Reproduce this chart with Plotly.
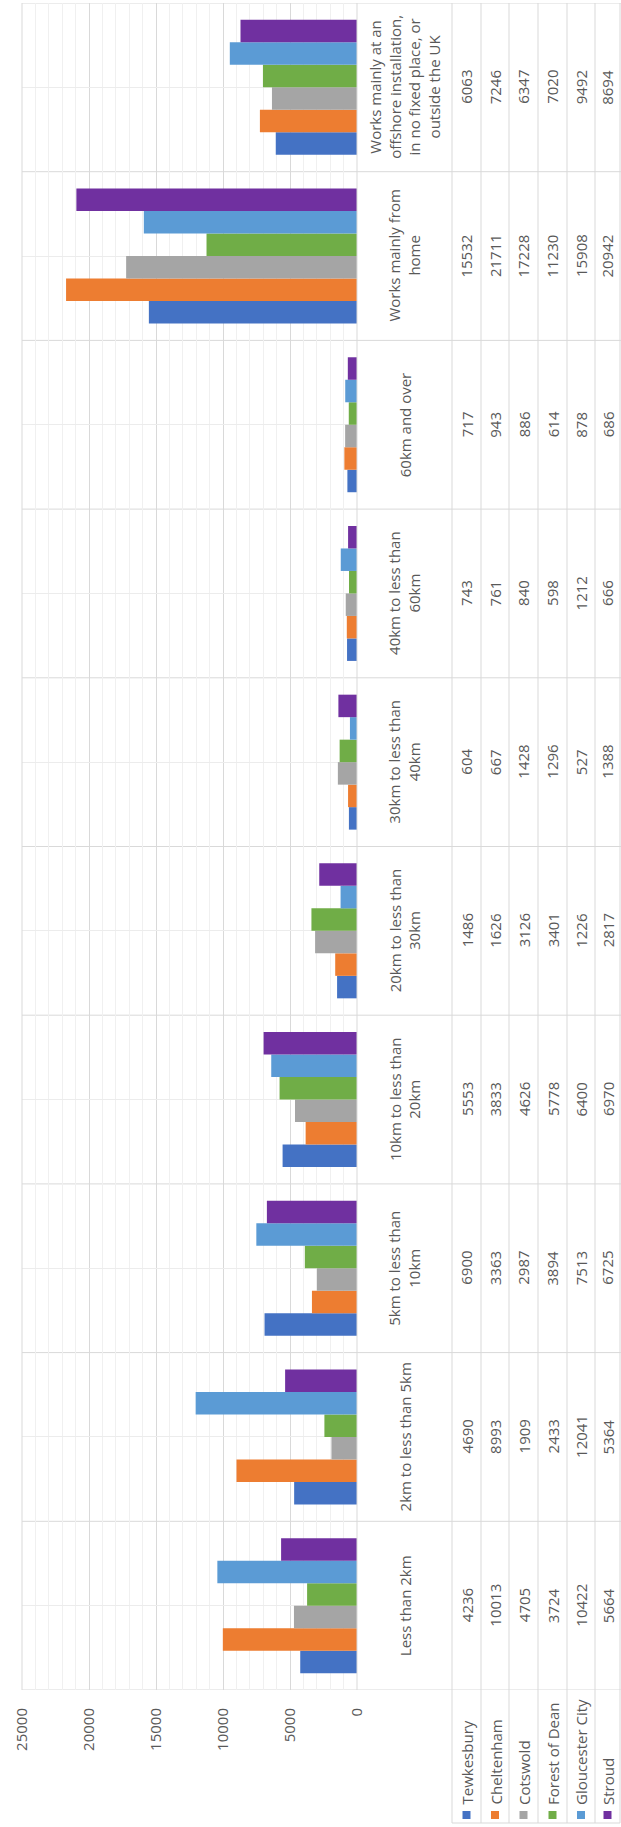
import plotly.graph_objects as go

# Distance-travelled-to-work categories (bottom to top)
categories = [
    "Less than 2km",
    "2km to less than 5km",
    "5km to less than<br>10km",
    "10km to less than<br>20km",
    "20km to less than<br>30km",
    "30km to less than<br>40km",
    "40km to less than<br>60km",
    "60km and over",
    "Works mainly from<br>home",
    "Works mainly at an<br>offshore installation,<br>in no fixed place, or<br>outside the UK",
]

tewkesbury = [4236, 4690, 6900, 5553, 1486, 604, 743, 717, 15532, 6063]
cheltenham = [10013, 8993, 3363, 3833, 1626, 667, 761, 943, 21711, 7246]
cotswold = [4705, 1909, 2987, 4626, 3126, 1428, 840, 886, 17228, 6347]
forest_of_dean = [3724, 2433, 3894, 5778, 3401, 1296, 598, 614, 11230, 7020]
gloucester_city = [10422, 12041, 7513, 6400, 1226, 527, 1212, 878, 15908, 9492]
stroud = [5664, 5364, 6725, 6970, 2817, 1388, 666, 686, 20942, 8694]

series_names = ["Tewkesbury", "Cheltenham", "Cotswold", "Forest of Dean",
                "Gloucester City", "Stroud"]
series_values = [tewkesbury, cheltenham, cotswold, forest_of_dean,
                 gloucester_city, stroud]
colors = ["#4472C4", "#ED7D31", "#A5A5A5", "#70AD47", "#5B9BD5", "#7030A0"]

value_ticks = [0, 5000, 10000, 15000, 20000, 25000]

# Page geometry (pixels)
FIG_W, FIG_H = 621, 1827
L, R, T, B = 22, 357, 3, 1690
W, H = R - L, B - T

TEXT = "#595959"
FONT = "Open Sans"
GRID = "#d9d9d9"


def px_x(px):
    return (px - L) / W


def px_y(py):
    return (B - py) / H


fig = go.Figure()
for name, vals, col in zip(series_names, series_values, colors):
    fig.add_trace(go.Bar(
        y=categories, x=vals, name=name, orientation="h",
        marker=dict(color=col, line=dict(width=0)),
        showlegend=False,
    ))

shapes = []
annotations = []

# Row boundaries running through the plot and the data table
for k in range(len(categories) + 1):
    shapes.append(dict(type="line", xref="paper", yref="y",
                       x0=0, x1=px_x(621), y0=k - 0.5, y1=k - 0.5,
                       line=dict(color=GRID, width=1), layer="below"))

# Table column edges
col_edges = [357, 452, 481, 509, 538, 567, 595, 620]
for i, xe in enumerate(col_edges):
    bottom = B if i == 0 else 1823
    shapes.append(dict(type="line", xref="paper", yref="paper",
                       x0=px_x(xe), x1=px_x(xe), y0=px_y(bottom), y1=px_y(T),
                       line=dict(color=GRID, width=1)))
shapes.append(dict(type="line", xref="paper", yref="paper",
                   x0=px_x(452), x1=px_x(620), y0=px_y(1823), y1=px_y(1823),
                   line=dict(color=GRID, width=1)))
# left edge of plot area
shapes.append(dict(type="line", xref="paper", yref="paper",
                   x0=0, x1=0, y0=0, y1=1, line=dict(color=GRID, width=1)))

label_center = (357 + 452) / 2
col_centers = [(col_edges[i + 1] + col_edges[i + 2]) / 2 for i in range(6)]

# Category labels column
for cat in categories:
    annotations.append(dict(
        x=px_x(label_center), xref="paper", y=cat, yref="y",
        text=cat, textangle=-90, showarrow=False, align="center",
        xanchor="center", yanchor="middle",
        font=dict(family=FONT, size=15, color=TEXT)))

# Data values
for ci, vals in enumerate(series_values):
    for cat, v in zip(categories, vals):
        annotations.append(dict(
            x=px_x(col_centers[ci]), xref="paper", y=cat, yref="y",
            text=str(v), textangle=-90, showarrow=False,
            xanchor="center", yanchor="middle",
            font=dict(family=FONT, size=15, color=TEXT)))

# Legend keys below the table
for ci, (name, col) in enumerate(zip(series_names, colors)):
    cx = col_centers[ci]
    shapes.append(dict(type="rect", xref="paper", yref="paper",
                       x0=px_x(cx - 4), x1=px_x(cx + 4),
                       y0=px_y(1819), y1=px_y(1811),
                       fillcolor=col, line=dict(width=0)))
    annotations.append(dict(
        x=px_x(cx), xref="paper", y=px_y(1807), yref="paper",
        text=name, textangle=-90, showarrow=False,
        xanchor="center", yanchor="bottom",
        font=dict(family=FONT, size=15, color=TEXT)))

fig.update_layout(
    width=FIG_W, height=FIG_H,
    margin=dict(l=L, r=FIG_W - R, t=T, b=FIG_H - B, pad=0),
    paper_bgcolor="white", plot_bgcolor="white",
    barmode="group", bargap=0.2, bargroupgap=0,
    shapes=shapes, annotations=annotations,
    xaxis=dict(
        range=[25000, 0], tickvals=value_ticks,
        ticktext=[str(t) for t in value_ticks],
        tickangle=-90, ticks="", ticklabelstandoff=14,
        tickfont=dict(family=FONT, size=15, color=TEXT),
        showgrid=True, gridcolor=GRID, gridwidth=1,
        zeroline=False, showline=False,
        minor=dict(dtick=1000, tick0=0, showgrid=True,
                   gridcolor="#f0f0f0", gridwidth=1),
    ),
    yaxis=dict(
        type="category", categoryorder="array", categoryarray=categories,
        range=[-0.5, len(categories) - 0.5],
        showticklabels=False, ticks="",
        showgrid=True, gridcolor="#ececec", gridwidth=1,
        zeroline=False, showline=False,
    ),
)

fig.write_html("out.html")
